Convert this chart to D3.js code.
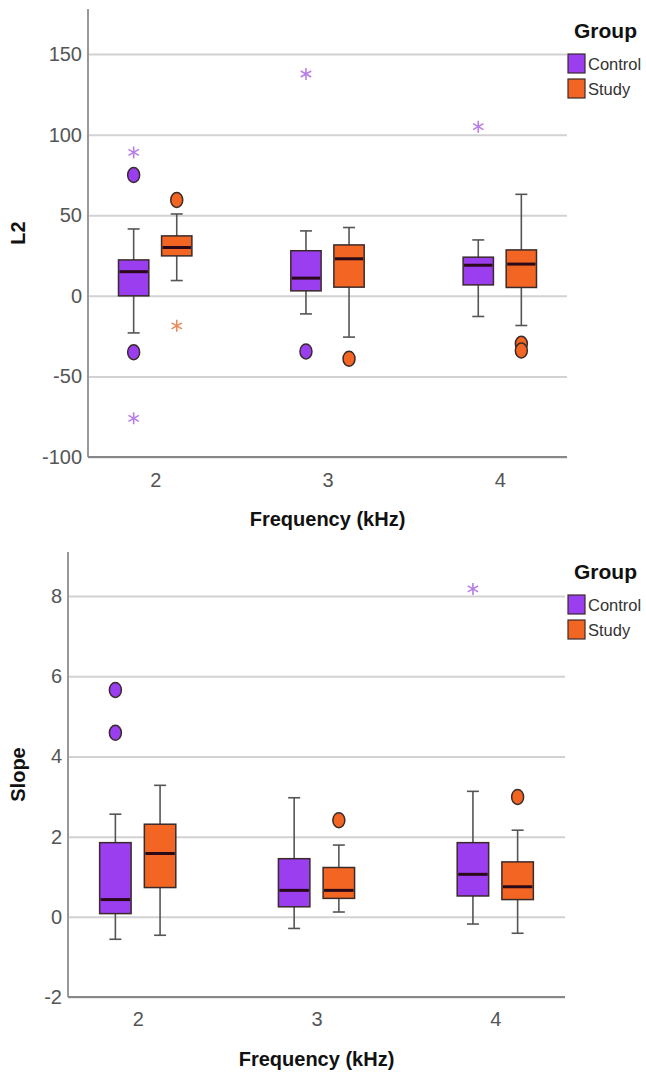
<!DOCTYPE html>
<html>
<head>
<meta charset="utf-8">
<script src="https://cdn.jsdelivr.net/npm/d3@7"></script>
<style>
  html, body { margin: 0; padding: 0; background: #fff; }
  svg { display: block; font-family: "Liberation Sans", Arial, sans-serif; }
</style>
</head>
<body>
<svg id="chart" width="646" height="1074"></svg>
<script>
// categories + groups
const freqs  = ['2', '3', '4'];
const groups = ['Control', 'Study'];

// box summaries per frequency: [lowWhisker, q1, median, q3, highWhisker]
const l2Control    = [[-23, 0, 15, 22.3, 41.5], [-11.2, 3.1, 11, 28, 40.3], [-12.8, 6.8, 19, 24, 34.7]];
const l2Study      = [[9.5, 24.8, 30, 37.2, 50.8], [-25.6, 5.4, 23, 31.6, 42.4], [-18.4, 5.2, 19.7, 28.5, 63]];
const slopeControl = [[-0.56, 0.08, 0.43, 1.85, 2.56], [-0.29, 0.25, 0.66, 1.45, 2.97], [-0.18, 0.52, 1.06, 1.85, 3.13]];
const slopeStudy   = [[-0.46, 0.73, 1.58, 2.31, 3.28], [0.12, 0.46, 0.66, 1.23, 1.79], [-0.41, 0.43, 0.75, 1.37, 2.16]];

// outliers: [freq, group, value, kind]  kind: 'o' = circle, '*' = extreme
const l2Outliers = [
  ['2', 'Control', 75, 'o'], ['2', 'Control', 89, '*'], ['2', 'Control', -35, 'o'], ['2', 'Control', -76, '*'],
  ['2', 'Study', 59.5, 'o'], ['2', 'Study', -18.6, '*'],
  ['3', 'Control', -34.5, 'o'], ['3', 'Control', 137.7, '*'],
  ['3', 'Study', -39, 'o'],
  ['4', 'Control', 105, '*'],
  ['4', 'Study', -29.8, 'o'], ['4', 'Study', -33.9, 'o']
];
const slopeOutliers = [
  ['2', 'Control', 5.66, 'o'], ['2', 'Control', 4.59, 'o'],
  ['3', 'Study', 2.41, 'o'],
  ['4', 'Control', 8.18, '*'],
  ['4', 'Study', 2.99, 'o']
];

// y ticks
const l2Ticks    = [-100, -50, 0, 50, 100, 150];
const slopeTicks = [-2, 0, 2, 4, 6, 8];

const fillColor = { Control: '#9b3ef0', Study: '#f26522' };
const starColor = { Control: '#b77de8', Study: '#e88a5c' };

const svg = d3.select('#chart');

function starPath(r) {
  const t = r / 2, u = t * Math.sqrt(3);
  return `M0,${-r}L0,${r}M${-u},${-t}L${u},${t}M${-u},${t}L${u},${-t}`;
}

function drawPanel(cfg) {
  const x = d3.scalePoint().domain(freqs).range([cfg.left, cfg.right]).padding(0.39);
  const y = d3.scaleLinear().domain(cfg.domain).range([cfg.bottom, cfg.top]);
  const step = x.step();
  const off  = step * 0.125;
  const bw   = step * 0.176;
  const gx   = d => x(d[0]) + (d[1] === 'Control' ? -off : off);

  const g = svg.append('g');

  // gridlines + y ticks (plain hyphen minus like the original)
  const yAxis = g.append('g')
    .attr('transform', `translate(${cfg.left},0)`)
    .call(d3.axisLeft(y).tickValues(cfg.ticks).tickFormat(d => String(d))
      .tickSize(-(cfg.right - cfg.left)).tickPadding(6));
  yAxis.select('.domain').remove();
  yAxis.selectAll('.tick line').attr('stroke', '#d2d2d2').attr('stroke-width', 2);
  yAxis.selectAll('.tick text')
    .attr('fill', '#555').attr('font-size', 20)
    .attr('font-family', '"Liberation Sans", Arial, sans-serif');

  // x ticks
  const xAxis = g.append('g')
    .attr('transform', `translate(0,${cfg.bottom})`)
    .call(d3.axisBottom(x).tickSize(0).tickPadding(cfg.xPad));
  xAxis.select('.domain').remove();
  xAxis.selectAll('.tick text')
    .attr('fill', '#555').attr('font-size', 20)
    .attr('font-family', '"Liberation Sans", Arial, sans-serif');

  // axis lines
  g.append('line')
    .attr('x1', cfg.left).attr('x2', cfg.left)
    .attr('y1', cfg.top).attr('y2', cfg.bottom)
    .attr('stroke', '#999').attr('stroke-width', 2);
  g.append('line')
    .attr('x1', cfg.left).attr('x2', cfg.right)
    .attr('y1', cfg.bottom).attr('y2', cfg.bottom)
    .attr('stroke', '#888').attr('stroke-width', 2);

  // boxes
  const rows = [];
  freqs.forEach((f, i) => {
    rows.push([f, 'Control', cfg.control[i]]);
    rows.push([f, 'Study', cfg.study[i]]);
  });

  const box = g.selectAll('g.box').data(rows).join('g').attr('class', 'box');
  // whiskers
  box.append('line')
    .attr('x1', gx).attr('x2', gx)
    .attr('y1', d => y(d[2][0])).attr('y2', d => y(d[2][4]))
    .attr('stroke', '#555').attr('stroke-width', 1.6);
  box.selectAll('line.cap').data(d => [[d, d[2][0]], [d, d[2][4]]]).join('line')
    .attr('class', 'cap')
    .attr('x1', d => gx(d[0]) - 6).attr('x2', d => gx(d[0]) + 6)
    .attr('y1', d => y(d[1])).attr('y2', d => y(d[1]))
    .attr('stroke', '#555').attr('stroke-width', 1.6);
  box.append('rect')
    .attr('x', d => gx(d) - bw / 2).attr('width', bw)
    .attr('y', d => y(d[2][3])).attr('height', d => y(d[2][1]) - y(d[2][3]))
    .attr('fill', d => fillColor[d[1]])
    .attr('stroke', '#3a2b2b').attr('stroke-width', 1.5);
  box.append('line')
    .attr('x1', d => gx(d) - bw / 2 + 1).attr('x2', d => gx(d) + bw / 2 - 1)
    .attr('y1', d => y(d[2][2])).attr('y2', d => y(d[2][2]))
    .attr('stroke', '#2a0a18').attr('stroke-width', 3);

  // outliers
  g.selectAll('ellipse.out').data(cfg.outliers.filter(d => d[3] === 'o')).join('ellipse')
    .attr('class', 'out')
    .attr('cx', gx).attr('cy', d => y(d[2]))
    .attr('rx', 6).attr('ry', 7.5)
    .attr('fill', d => fillColor[d[1]])
    .attr('stroke', '#3a2b2b').attr('stroke-width', 1.5);
  g.selectAll('path.star').data(cfg.outliers.filter(d => d[3] === '*')).join('path')
    .attr('class', 'star')
    .attr('transform', d => `translate(${gx(d)},${y(d[2])})`)
    .attr('d', starPath(6))
    .attr('fill', 'none')
    .attr('stroke', d => starColor[d[1]]).attr('stroke-width', 1.6);

  // axis titles
  g.append('text')
    .attr('transform', `translate(${cfg.yTitleX},${(cfg.top + cfg.bottom) / 2}) rotate(-90)`)
    .attr('text-anchor', 'middle')
    .attr('font-size', 20).attr('font-weight', 'bold').attr('fill', '#111')
    .text(cfg.yTitle);
  g.append('text')
    .attr('x', (cfg.left + cfg.right) / 2).attr('y', cfg.xTitleY)
    .attr('text-anchor', 'middle')
    .attr('font-size', 20).attr('font-weight', 'bold').attr('fill', '#111')
    .text('Frequency (kHz)');

  // legend
  const lg = g.append('g').attr('transform', `translate(568,${cfg.legendY})`);
  lg.append('text')
    .attr('x', 6).attr('y', 0)
    .attr('font-size', 21).attr('font-weight', 'bold').attr('fill', '#111')
    .text('Group');
  groups.forEach((gr, i) => {
    lg.append('rect')
      .attr('x', 0).attr('y', 16 + i * 25)
      .attr('width', 17).attr('height', 19)
      .attr('fill', fillColor[gr])
      .attr('stroke', '#3a2b2b').attr('stroke-width', 1.2);
    lg.append('text')
      .attr('x', 20).attr('y', 32 + i * 25)
      .attr('font-size', 16.5).attr('fill', '#333')
      .text(gr);
  });
}

drawPanel({
  left: 88, right: 567, top: 9, bottom: 457,
  domain: [-100, 178], ticks: l2Ticks,
  control: l2Control, study: l2Study, outliers: l2Outliers,
  yTitle: 'L2', yTitleX: 25, xTitleY: 526, xPad: 16, legendY: 38
});

drawPanel({
  left: 68, right: 565, top: 552, bottom: 997,
  domain: [-2, 9.1], ticks: slopeTicks,
  control: slopeControl, study: slopeStudy, outliers: slopeOutliers,
  yTitle: 'Slope', yTitleX: 25, xTitleY: 1066, xPad: 15, legendY: 579
});
</script>
</body>
</html>
